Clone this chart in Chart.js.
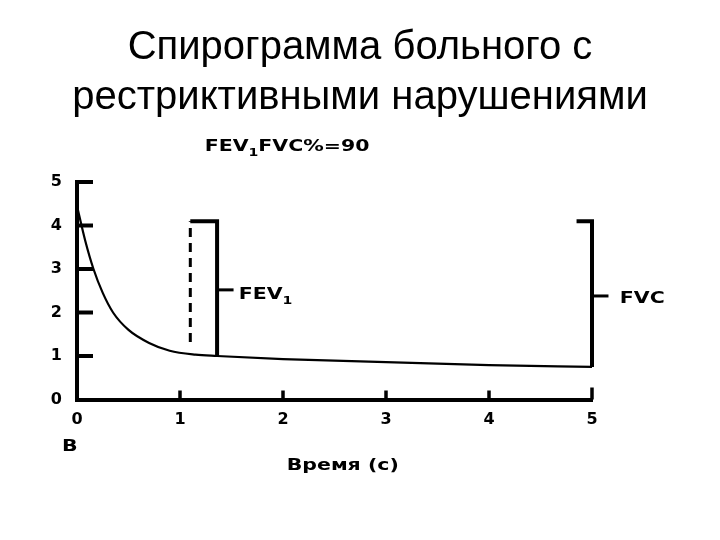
<!DOCTYPE html>
<html>
<head>
<meta charset="utf-8">
<script src="https://cdn.jsdelivr.net/npm/chart.js@4.4.1/dist/chart.umd.min.js"></script>
<style>
  html, body { margin: 0; padding: 0; background: #fff; }
  #wrap { position: relative; width: 720px; height: 540px; }
  #title { position: absolute; left: 0; top: 20px; width: 720px; text-align: center;
           font-family: "Liberation Sans", Arial, sans-serif; font-size: 40px; line-height: 50px; color: #000; }
  canvas { position: absolute; left: 0; top: 0; }
</style>
</head>
<body>
<div id="wrap">
  <canvas id="c" width="720" height="540"></canvas>
  <div id="title">Спирограмма больного с<br>рестриктивными нарушениями</div>
</div>
<script>
// ---- data ----
const timeS   = [0, 0.08, 0.16, 0.25, 0.35, 0.5, 0.7, 0.9, 1.15, 1.36, 2, 3, 4, 5];
const volumeL = [4.45, 3.65, 3.0, 2.45, 2.0, 1.6, 1.3, 1.12, 1.03, 1.0, 0.93, 0.86, 0.79, 0.75];
const xTicks = [0, 1, 2, 3, 4, 5];
const yTicks = [0, 1, 2, 3, 4, 5];
const fev1DashTime = 1.1, fev1DashBottom = 1.32;
const fev1Time = 1.36, fev1Bottom = 1.0;
const bracketTop = 4.1;
const fev1Mark = 2.52;
const fvcTime = 5, fvcLeft = 4.85, fvcBottom = 0.75, fvcMark = 2.38;
const fev1LabelTime = 1.57, fvcLabelTime = 5.27, markLen = 0.16;
const ratioLabel = ['FEV', '1', 'FVC%=90'];
const xAxisTitle = 'Время (с)';
const panelLetter = 'B';

const pts = timeS.map((t, i) => ({ x: t, y: volumeL[i] }));

const innerTicks = {
  id: 'innerTicks',
  afterDraw(chart) {
    const { ctx, scales: { x, y } } = chart;
    ctx.save();
    ctx.strokeStyle = '#000';
    ctx.lineCap = 'butt';
    ctx.lineWidth = 4;
    const x0 = x.getPixelForValue(0);
    yTicks.filter(v => v > 0).forEach(v => {
      const py = y.getPixelForValue(v);
      ctx.beginPath(); ctx.moveTo(x0, py); ctx.lineTo(x0 + 16, py); ctx.stroke();
    });
    const y0 = y.getPixelForValue(0);
    ctx.lineWidth = 3.5;
    xTicks.filter(v => v > 0).forEach(v => {
      const px = x.getPixelForValue(v);
      ctx.beginPath(); ctx.moveTo(px, y0); ctx.lineTo(px, y0 - (v === 5 ? 12 : 9)); ctx.stroke();
    });
    // labels (wide bold lettering)
    ctx.fillStyle = '#000';
    ctx.textBaseline = 'middle';
    const SX = 1.28;
    const big = 'bold 16px "DejaVu Sans", sans-serif';
    const small = 'bold 11px "DejaVu Sans", sans-serif';
    const drawSub = (parts, px, py, align) => {
      ctx.save();
      ctx.translate(px, py);
      ctx.scale(SX, 1);
      ctx.textAlign = 'left';
      ctx.font = big;
      let total = ctx.measureText(parts[0]).width;
      ctx.font = small; if (parts[1]) total += ctx.measureText(parts[1]).width;
      ctx.font = big; if (parts[2]) total += ctx.measureText(parts[2]).width;
      let cx = align === 'center' ? -total / 2 : 0;
      ctx.font = big;
      ctx.fillText(parts[0], cx, 0);
      cx += ctx.measureText(parts[0]).width;
      if (parts[1]) {
        ctx.font = small;
        ctx.fillText(parts[1], cx, 6);
        cx += ctx.measureText(parts[1]).width;
      }
      if (parts[2]) {
        ctx.font = big;
        ctx.fillText(parts[2], cx, 0);
      }
      ctx.restore();
    };
    drawSub(ratioLabel, x.getPixelForValue(1.24), 147);
    drawSub(['FEV', '1'], x.getPixelForValue(fev1LabelTime), y.getPixelForValue(fev1Mark) + 5);
    drawSub(['FVC'], x.getPixelForValue(fvcLabelTime), y.getPixelForValue(fvcMark) + 3);
    drawSub([panelLetter], 62, 447);
    drawSub([xAxisTitle], x.getPixelForValue(2.58), 466, 'center');
    ctx.restore();
  }
};

new Chart(document.getElementById('c'), {
  type: 'scatter',
  data: {
    datasets: [
      { data: pts, showLine: true, borderColor: '#000', borderWidth: 2.2, pointRadius: 0, cubicInterpolationMode: 'monotone' },
      { data: [{ x: fev1DashTime, y: fev1DashBottom }, { x: fev1DashTime, y: bracketTop }], showLine: true, borderColor: '#000', borderWidth: 3, borderDash: [9, 6], pointRadius: 0 },
      { data: [{ x: fev1DashTime, y: bracketTop }, { x: fev1Time, y: bracketTop }, { x: fev1Time, y: fev1Bottom }], showLine: true, borderColor: '#000', borderWidth: 4, pointRadius: 0 },
      { data: [{ x: fev1Time, y: fev1Mark }, { x: fev1Time + markLen, y: fev1Mark }], showLine: true, borderColor: '#000', borderWidth: 3, pointRadius: 0 },
      { data: [{ x: fvcLeft, y: bracketTop }, { x: fvcTime, y: bracketTop }, { x: fvcTime, y: fvcBottom }], showLine: true, borderColor: '#000', borderWidth: 4, pointRadius: 0 },
      { data: [{ x: fvcTime, y: fvcMark }, { x: fvcTime + markLen, y: fvcMark }], showLine: true, borderColor: '#000', borderWidth: 3, pointRadius: 0 }
    ]
  },
  options: {
    responsive: false,
    animation: false,
    clip: false,
    layout: { padding: { left: 0, top: 182, right: 128, bottom: 60 } },
    plugins: { legend: { display: false }, tooltip: { enabled: false } },
    scales: {
      x: {
        type: 'linear', min: 0, max: 5,
        afterFit: s => { s.height = 540 - 182 - 60 - 217.5; },
        afterBuildTicks: s => { s.ticks = xTicks.map(v => ({ value: v })); },
        grid: { display: false, drawTicks: false },
        border: { display: true, color: '#000', width: 4 },
        ticks: { color: '#000', padding: 11, font: { family: 'DejaVu Sans', weight: 'bold', size: 16 } }
      },
      y: {
        type: 'linear', min: 0, max: 5,
        afterFit: s => { s.width = 77; },
        afterBuildTicks: s => { s.ticks = yTicks.map(v => ({ value: v })); },
        grid: { display: false, drawTicks: false },
        border: { display: true, color: '#000', width: 4 },
        ticks: { color: '#000', padding: 15, font: { family: 'DejaVu Sans', weight: 'bold', size: 16 } }
      }
    }
  },
  plugins: [innerTicks]
});
</script>
</body>
</html>
